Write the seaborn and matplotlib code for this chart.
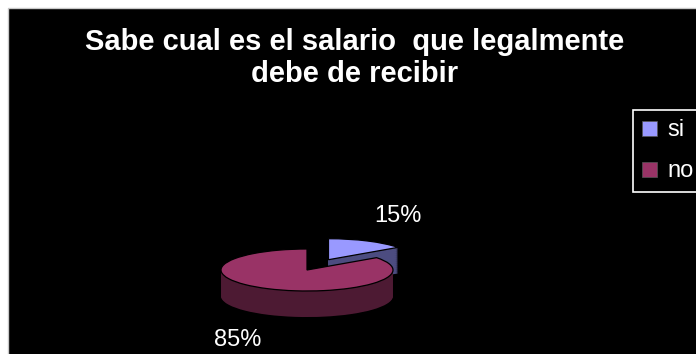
import numpy as np
import matplotlib
matplotlib.use("Agg")
import matplotlib.pyplot as plt
from matplotlib.patches import Rectangle, Patch
import seaborn as sns

# Survey answers
categories = ["si", "no"]
shares = [15, 85]
explode = [0.55, 0.0]

title = "Sabe cual es el salario  que legalmente\ndebe de recibir"

top_colors = sns.color_palette(["#9999FF", "#993366"])
side_colors = sns.color_palette(["#4C4C80", "#4D1A33"])

sns.set_theme(style="dark")
plt.rcParams["font.family"] = ["Liberation Sans", "DejaVu Sans"]

W, H = 696, 354
fig = plt.figure(figsize=(W / 100, H / 100), dpi=100, facecolor="white")

# black chart area with a thin grey frame
fig.patches.append(Rectangle((7.5 / W, -0.01), 1.1, 1 - 7.5 / H + 0.01,
                             transform=fig.transFigure, facecolor="black",
                             edgecolor="#c8c8c8", linewidth=1, zorder=-5))

ax = fig.add_axes([0, 0, 1, 1])
ax.patch.set_alpha(0)
ax.set_zorder(2)

rx_px, ry_px = 86.0, 21.0      # screen radii of the tilted disc
cx_px, cy_px = 307.0, 270.0    # disc centre (pixels from top-left)
depth = 1.24                   # disc thickness in y units

# extruded sides: stacked copies of the pie, darker colour
levels = np.linspace(-depth, 0, 40)
for i, dz in enumerate(levels):
    last = i == len(levels) - 1
    wedges, _ = ax.pie(shares, explode=explode, startangle=90, counterclock=False,
                       center=(0, dz), radius=1,
                       colors=top_colors if last else side_colors,
                       wedgeprops=dict(edgecolor="black" if last else "none",
                                       linewidth=0.9 if last else 0),
                       frame=True)
    for j, w in enumerate(wedges):
        w.set_zorder(1 + j + i * 0.001 + (0.5 if last else 0))

# percentage labels along each wedge's bisector
lab_rx, lab_ry = 1.78, 2.35
for w, v, e in zip(wedges, shares, explode):
    mid = np.deg2rad((w.theta1 + w.theta2) / 2)
    ox, oy = e * np.cos(mid), e * np.sin(mid)
    x = ox + lab_rx * np.cos(mid)
    y = oy + lab_ry * np.sin(mid)
    if np.sin(mid) < 0:
        y -= depth
    ax.text(x, y, f"{v}%", color="white", fontsize=17, ha="center", va="center",
            zorder=5)

ax.set_aspect("auto")
ax.set_xlim(-cx_px / rx_px, (W - cx_px) / rx_px)
ax.set_ylim(-(H - cy_px) / ry_px, cy_px / ry_px)
ax.axis("off")

fig.text(355 / W, 1 - 28 / H, title, color="white", fontsize=21, fontweight="bold",
         ha="center", va="top", linespacing=1.18)

handles = [Patch(facecolor=c, edgecolor="#555555", linewidth=0.5) for c in top_colors]
leg = fig.legend(handles, categories, loc="upper left",
                 bbox_to_anchor=(633 / W, 1 - 110 / H), bbox_transform=fig.transFigure,
                 frameon=True, fancybox=False, facecolor="black", edgecolor="white",
                 framealpha=1, fontsize=17, handlelength=0.6, handleheight=0.6,
                 handletextpad=0.45, labelspacing=0.8, borderpad=0.4,
                 borderaxespad=0, labelcolor="white")
leg.get_frame().set_linewidth(1.2)
leg.set_zorder(10)

fig.savefig("out.png", dpi=100, facecolor="white")
